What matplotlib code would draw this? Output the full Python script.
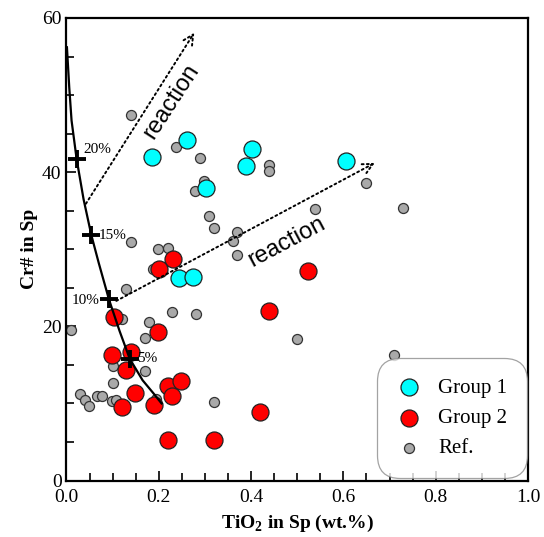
import matplotlib
matplotlib.use("Agg")
import matplotlib.pyplot as plt
import numpy as np

plt.rcParams["font.family"] = ["Liberation Serif", "DejaVu Serif"]
plt.rcParams["mathtext.fontset"] = "custom"
plt.rcParams["mathtext.rm"] = "Liberation Serif"
plt.rcParams["mathtext.bf"] = "Liberation Serif:bold"

# Group 1 spinels
g1_tio2 = [0.185, 0.262, 0.303, 0.403, 0.390, 0.605, 0.244, 0.275]
g1_cr = [42.0, 44.2, 37.9, 43.0, 40.8, 41.5, 26.3, 26.4]

# Group 2 spinels
g2_tio2 = [0.230, 0.200, 0.103, 0.198, 0.099, 0.139, 0.130, 0.219, 0.249,
           0.229, 0.149, 0.190, 0.120, 0.219, 0.319, 0.524, 0.438, 0.419]
g2_cr = [28.7, 27.5, 21.2, 19.3, 16.3, 16.7, 14.4, 12.2, 12.9,
         10.9, 11.3, 9.8, 9.5, 5.2, 5.2, 27.2, 22.0, 8.9]

# Reference data
ref_tio2 = [0.139, 0.238, 0.289, 0.298, 0.279, 0.309, 0.319, 0.139, 0.199,
            0.219, 0.438, 0.438, 0.369, 0.360, 0.369, 0.649, 0.539, 0.729,
            0.499, 0.709, 0.187, 0.130, 0.120, 0.229, 0.280, 0.179, 0.170,
            0.010, 0.100, 0.170, 0.100, 0.029, 0.040, 0.049, 0.067, 0.078,
            0.098, 0.108, 0.193, 0.319]
ref_cr = [47.4, 43.2, 41.9, 38.8, 37.5, 34.3, 32.8, 31.0, 30.0,
          30.1, 40.9, 40.1, 32.3, 31.1, 29.3, 38.6, 35.2, 35.4,
          18.3, 16.3, 27.4, 24.9, 21.0, 21.9, 21.6, 20.5, 18.5,
          19.5, 14.8, 14.2, 12.7, 11.2, 10.4, 9.7, 10.9, 10.9,
          10.3, 10.5, 10.6, 10.2]

# Partial melting trend and melting-degree marks
melt_tio2 = [0.001, 0.006, 0.011, 0.022, 0.037, 0.054, 0.070, 0.092,
             0.115, 0.137, 0.165, 0.190, 0.206]
melt_cr = [56.2, 51.0, 46.7, 41.7, 36.5, 31.8, 28.2, 23.5,
           19.4, 15.8, 13.0, 11.2, 10.0]
mark_labels = ["20%", "15%", "10%", "5%"]
mark_tio2 = [0.022, 0.054, 0.092, 0.137]
mark_cr = [41.7, 31.8, 23.5, 15.8]

# Reaction trend arrows (start, end)
arrow_start = [(0.042, 35.9), (0.108, 23.3)]
arrow_end = [(0.277, 58.1), (0.668, 41.2)]

fig = plt.figure(figsize=(5.44, 5.37), dpi=100)
ax = fig.add_axes([0.1222, 0.1052, 0.8484, 0.8613])

ax.scatter(ref_tio2, ref_cr, s=52, c="#a9a9a9", edgecolors="#333333",
           linewidths=0.9, label="Ref.", zorder=2)
ax.scatter(g2_tio2, g2_cr, s=150, c="#ff0000", edgecolors="#222222",
           linewidths=0.9, label="Group 2", zorder=3)
ax.scatter(g1_tio2, g1_cr, s=150, c="#00ffff", edgecolors="#222222",
           linewidths=0.9, label="Group 1", zorder=3)

ax.plot(melt_tio2, melt_cr, color="black", lw=1.6, zorder=4)
ax.plot(mark_tio2, mark_cr, ls="none", marker="+", ms=13, mew=2.8,
        color="black", zorder=5)
offsets = [(5, 7), (5, 0), (-27, -1), (5, 0)]
for lab, x, y, (dx, dy) in zip(mark_labels, mark_tio2, mark_cr, offsets):
    ax.annotate(lab, (x, y), xytext=(dx, dy), textcoords="offset points",
                fontsize=11, ha="left", va="center", zorder=5)

for (x0, y0), (x1, y1) in zip(arrow_start, arrow_end):
    ax.annotate("", xy=(x1, y1), xytext=(x0, y0),
                arrowprops=dict(arrowstyle="->", linestyle=":", lw=1.4,
                                color="black", mutation_scale=18,
                                shrinkA=0, shrinkB=0), zorder=4)

ax.text(0.227, 49.2, "reaction", family="Liberation Sans", fontsize=17,
        rotation=57, ha="center", va="center", rotation_mode="anchor")
ax.text(0.477, 31.0, "reaction", family="Liberation Sans", fontsize=17,
        rotation=28, ha="center", va="center", rotation_mode="anchor")

ax.set_xlim(0, 1.0)
ax.set_ylim(0, 60)
ax.set_xticks(np.arange(0, 1.01, 0.2))
ax.set_xticks(np.arange(0, 1.01, 0.05), minor=True)
ax.set_yticks([0, 20, 40, 60])
ax.set_yticks(np.arange(0, 61, 5), minor=True)
ax.xaxis.set_major_formatter(matplotlib.ticker.FormatStrFormatter("%.1f"))
ax.tick_params(which="both", direction="in", top=False, right=False,
               labelsize=14, width=1.2, colors="black")
ax.tick_params(axis="x", which="major", pad=6)
ax.tick_params(which="major", length=7)
ax.tick_params(which="minor", length=6)
for sp in ax.spines.values():
    sp.set_linewidth(1.6)

ax.set_xlabel(r"TiO$_\mathbf{2}$ in Sp (wt.%)", fontsize=14, fontweight="bold",
              labelpad=5)
ax.set_ylabel("Cr# in Sp", fontsize=14, fontweight="bold", labelpad=3)

handles, labels = ax.get_legend_handles_labels()
order = [2, 1, 0]
leg = ax.legend([handles[i] for i in order], [labels[i] for i in order],
                loc="lower right", bbox_to_anchor=(0.998, 0.005),
                fontsize=15, frameon=True, fancybox=True, scatterpoints=1,
                borderpad=0.95, labelspacing=0.52, handlelength=1.2,
                handletextpad=0.8, borderaxespad=0.0)
frame = leg.get_frame()
frame.set_edgecolor("#8c8c8c")
frame.set_linewidth(0.9)
frame.set_boxstyle("round,pad=0,rounding_size=1.1")

fig.savefig("out.png", dpi=100)
